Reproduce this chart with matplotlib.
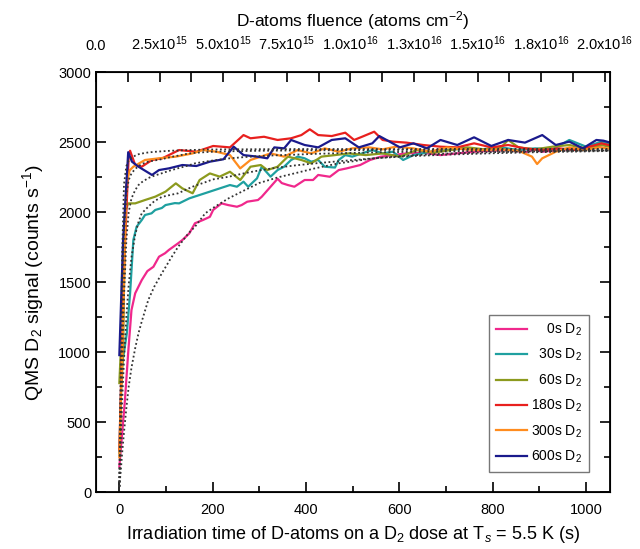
import numpy as np
import matplotlib.pyplot as plt
from matplotlib.ticker import MultipleLocator, FixedLocator

plt.rcParams['font.family'] = ['Liberation Sans', 'DejaVu Sans']
plt.rcParams['mathtext.fontset'] = 'custom'
plt.rcParams['mathtext.rm'] = 'Liberation Sans'
plt.rcParams['mathtext.it'] = 'Liberation Sans:italic'

# data (time in s, signal in counts/s)
t_0s = [0, 6, 12, 19, 26, 34, 48, 60, 73, 85, 98, 106, 126, 135, 150, 162, 179, 194, 201, 219, 233, 252, 262,
        274, 297, 305, 324, 339, 348, 361, 375, 397, 415, 426, 451, 470, 487, 516, 537, 559, 586, 615, 651, 688,
        724, 760, 797, 833, 870, 891, 906, 942, 978, 1015, 1037, 1050]
y_0s = [183, 420, 659, 1000, 1302, 1422, 1516, 1580, 1611, 1683, 1708, 1731, 1779, 1802, 1850, 1922, 1945, 1968,
        2017, 2064, 2052, 2040, 2052, 2076, 2088, 2111, 2183, 2240, 2209, 2195, 2183, 2231, 2231, 2267, 2254, 2302,
        2314, 2338, 2374, 2397, 2409, 2421, 2426, 2409, 2421, 2433, 2440, 2445, 2430, 2450, 2433, 2445, 2457, 2464,
        2481, 2470]

t_30s = [0, 5, 10, 16, 23, 30, 37, 48, 55, 69, 77, 91, 99, 119, 128, 150, 172, 194, 215, 237, 252, 266, 276, 295,
         305, 324, 339, 353, 368, 382, 397, 411, 426, 440, 462, 470, 484, 499, 520, 542, 564, 586, 608, 630, 666,
         702, 739, 775, 818, 855, 891, 928, 964, 1000, 1033, 1050]
y_30s = [281, 900, 1000, 1135, 1420, 1802, 1897, 1945, 1981, 1993, 2017, 2031, 2052, 2066, 2064, 2100, 2124, 2148,
         2171, 2195, 2183, 2219, 2183, 2243, 2326, 2255, 2302, 2326, 2374, 2398, 2386, 2362, 2374, 2326, 2320, 2374,
         2409, 2398, 2421, 2445, 2421, 2433, 2374, 2409, 2433, 2445, 2457, 2450, 2464, 2445, 2457, 2450, 2517, 2469,
         2505, 2490]

t_60s = [0, 3, 5, 8, 12, 19, 34, 55, 77, 99, 121, 135, 157, 172, 194, 215, 237, 259, 281, 303, 317, 339, 361,
         390, 411, 433, 462, 491, 528, 564, 601, 637, 673, 710, 746, 782, 818, 833, 855, 891, 928, 964, 1000, 1033,
         1050]
y_60s = [780, 1000, 780, 1000, 2000, 2064, 2064, 2088, 2112, 2148, 2207, 2171, 2136, 2231, 2278, 2255, 2290, 2231,
         2326, 2338, 2302, 2326, 2398, 2374, 2350, 2398, 2409, 2421, 2409, 2421, 2398, 2445, 2426, 2445, 2464, 2450,
         2464, 2517, 2464, 2450, 2469, 2481, 2457, 2481, 2470]

t_180s = [0, 10, 20, 23, 34, 48, 70, 92, 128, 165, 201, 237, 266, 281, 310, 339, 368, 390, 408, 426, 455, 484,
          503, 520, 546, 564, 586, 615, 651, 688, 724, 760, 797, 833, 869, 906, 942, 978, 1007, 1033, 1050]
y_180s = [300, 1600, 2400, 2440, 2338, 2326, 2374, 2386, 2445, 2433, 2474, 2464, 2552, 2529, 2540, 2517, 2529,
          2552, 2593, 2552, 2545, 2569, 2517, 2540, 2576, 2517, 2505, 2498, 2481, 2469, 2464, 2493, 2464, 2481,
          2457, 2445, 2457, 2445, 2469, 2493, 2480]

t_300s = [0, 8, 15, 22, 30, 55, 85, 121, 157, 179, 208, 237, 259, 281, 303, 324, 353, 382, 411, 440, 470, 499,
          535, 564, 593, 630, 666, 702, 739, 775, 818, 855, 884, 895, 906, 935, 964, 993, 1029, 1050]
y_300s = [250, 1200, 2200, 2300, 2326, 2374, 2386, 2398, 2421, 2445, 2433, 2409, 2314, 2374, 2398, 2421, 2398,
          2445, 2421, 2457, 2433, 2457, 2464, 2450, 2469, 2457, 2433, 2464, 2450, 2445, 2450, 2440, 2398, 2345,
          2386, 2433, 2464, 2445, 2464, 2455]

t_600s = [0, 8, 19, 27, 41, 70, 85, 106, 135, 165, 194, 223, 245, 266, 295, 317, 332, 353, 368, 397, 426, 455,
          484, 513, 542, 557, 579, 601, 630, 659, 688, 724, 760, 797, 833, 869, 906, 935, 964, 993, 1022, 1037,
          1050]
y_600s = [980, 1800, 2430, 2362, 2326, 2267, 2302, 2314, 2338, 2331, 2362, 2379, 2469, 2409, 2398, 2386, 2464,
          2457, 2517, 2481, 2464, 2517, 2529, 2464, 2493, 2545, 2505, 2464, 2493, 2457, 2517, 2481, 2536, 2474,
          2517, 2498, 2552, 2481, 2505, 2457, 2517, 2512, 2500]

# dotted fits
fit_t = [0, 3, 6, 10, 15, 20, 26, 34, 41, 48, 62, 75, 91, 110, 126, 148, 162, 184, 200, 234, 269, 300, 340, 376,
         420, 470, 542, 615, 700, 800, 900, 1050]
fit_0s = [40, 150, 280, 430, 600, 754, 890, 1030, 1136, 1220, 1374, 1470, 1564, 1670, 1754, 1850, 1897, 1993,
          2030, 2100, 2159, 2210, 2250, 2279, 2315, 2350, 2385, 2405, 2420, 2430, 2436, 2442]
fit_30s = [40, 350, 650, 950, 1250, 1480, 1680, 1840, 1930, 1993, 2040, 2080, 2110, 2125, 2136, 2170, 2190, 2215,
           2235, 2254, 2280, 2300, 2320, 2335, 2350, 2365, 2385, 2400, 2412, 2422, 2430, 2438]
fit_60s = [40, 500, 950, 1400, 1800, 2000, 2100, 2159, 2195, 2215, 2245, 2262, 2279, 2300, 2315, 2335, 2350,
           2362, 2370, 2385, 2395, 2402, 2408, 2412, 2418, 2422, 2428, 2432, 2435, 2438, 2440, 2442]
fit_180s = [40, 700, 1300, 1850, 2130, 2230, 2279, 2310, 2330, 2345, 2362, 2370, 2380, 2395, 2405, 2420, 2425,
            2430, 2433, 2436, 2438, 2440, 2441, 2442, 2443, 2444, 2445, 2446, 2446, 2447, 2447, 2448]
fit_600s = [40, 900, 1700, 2200, 2330, 2370, 2390, 2405, 2415, 2420, 2428, 2432, 2436, 2440, 2442, 2445, 2446,
            2448, 2449, 2450, 2450, 2451, 2451, 2452, 2452, 2452, 2452, 2452, 2453, 2453, 2453, 2453]

series = [
    ("    0s D$_2$", t_0s, y_0s, "#f0288c"),
    ("  30s D$_2$", t_30s, y_30s, "#1fa0a0"),
    ("  60s D$_2$", t_60s, y_60s, "#8c9a1e"),
    ("180s D$_2$", t_180s, y_180s, "#e8201e"),
    ("300s D$_2$", t_300s, y_300s, "#ff8c1e"),
    ("600s D$_2$", t_600s, y_600s, "#1a1a8c"),
]

fig = plt.figure(figsize=(6.4, 5.49), dpi=100)
ax = fig.add_axes([0.15, 0.1033, 0.803, 0.7649])

for lab, t, y, c in series:
    ax.plot(t, y, color=c, lw=1.6, label=lab)

for f in [fit_0s, fit_30s, fit_60s, fit_180s, fit_600s]:
    ax.plot(fit_t, f, color="#333333", ls=(0, (1, 1.4)), lw=1.3)

ax.set_xlim(-50, 1051)
ax.set_ylim(0, 3000)
ax.xaxis.set_major_locator(MultipleLocator(200))
ax.xaxis.set_minor_locator(MultipleLocator(100))
ax.yaxis.set_major_locator(MultipleLocator(500))
ax.yaxis.set_minor_locator(MultipleLocator(250))
ax.tick_params(which="both", direction="in", right=True, top=False, labelsize=10.5, width=1.2)
ax.tick_params(axis="x", pad=8)
ax.tick_params(which="major", length=7)
ax.tick_params(which="minor", length=4)
for s in ax.spines.values():
    s.set_linewidth(1.3)

ax.set_xlabel("Irradiation time of D-atoms on a D$_2$ dose at T$_s$ = 5.5 K (s)", fontsize=13, labelpad=5)
ax.set_ylabel("QMS D$_2$ signal (counts s$^{-1}$)", fontsize=14, labelpad=9)

# top fluence axis
top = ax.twiny()
top.set_xlim(0, 2.02e16)
fl_ticks = [0, 2.5e15, 5.0e15, 7.5e15, 1.0e16, 1.25e16, 1.5e16, 1.75e16, 2.0e16]
fl_labels = ["0.0", "2.5x10$^{15}$", "5.0x10$^{15}$", "7.5x10$^{15}$", "1.0x10$^{16}$",
             "1.3x10$^{16}$", "1.5x10$^{16}$", "1.8x10$^{16}$", "2.0x10$^{16}$"]
top.xaxis.set_major_locator(FixedLocator(fl_ticks))
top.set_xticklabels(fl_labels)
top.xaxis.set_minor_locator(MultipleLocator(1.25e15))
top.tick_params(which="both", direction="in", labelsize=10.5, width=1.2, pad=14)
top.tick_params(which="major", length=7)
top.tick_params(which="minor", length=7)
top.set_xlabel("D-atoms fluence (atoms cm$^{-2}$)", fontsize=12.5, labelpad=6)

leg = ax.legend(loc="lower right", bbox_to_anchor=(0.959, 0.048), fontsize=10, frameon=True, fancybox=False,
                edgecolor="#555555", handlelength=2.2, handletextpad=0.3, labelspacing=0.65, borderpad=0.5,
                borderaxespad=0.0)
leg.get_frame().set_linewidth(1.0)

fig.savefig("out.png", dpi=100)
